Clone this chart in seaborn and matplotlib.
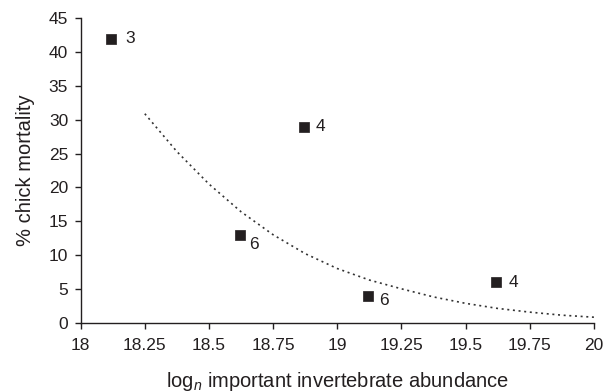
import matplotlib
matplotlib.use("Agg")
import matplotlib.pyplot as plt
import seaborn as sns
import pandas as pd

# Observed points
abundance = [18.12, 18.87, 18.62, 19.12, 19.62]
mortality = [42, 29, 13, 4, 6]
sample_n = ["3", "4", "6", "6", "4"]

# Trend line
trend_x = [18.25, 18.375, 18.5, 18.625, 18.75, 18.875, 19.0, 19.125, 19.25,
           19.375, 19.5, 19.625, 19.75, 19.875, 20.0]
trend_y = [30.9, 25.3, 20.5, 16.4, 13.0, 10.2, 8.0, 6.3, 5.0,
           3.8, 2.85, 2.1, 1.55, 1.1, 0.8]

x_ticks = [18, 18.25, 18.5, 18.75, 19, 19.25, 19.5, 19.75, 20]
x_tick_labels = ["18", "18.25", "18.5", "18.75", "19", "19.25", "19.5", "19.75", "20"]
y_ticks = [0, 5, 10, 15, 20, 25, 30, 35, 40, 45]

sns.set_style("ticks")
plt.rcParams["font.family"] = ["Liberation Sans", "DejaVu Sans"]
plt.rcParams["mathtext.fontset"] = "custom"
plt.rcParams["mathtext.rm"] = "Liberation Sans"
plt.rcParams["mathtext.it"] = "Liberation Sans:italic"

INK = "#231f20"
fig = plt.figure(figsize=(6.11, 3.92), dpi=100)
ax = fig.add_axes([0.132, 0.177, 0.840, 0.776])

pts = pd.DataFrame({"x": abundance, "y": mortality, "n": sample_n})
trend = pd.DataFrame({"x": trend_x, "y": trend_y})

sns.lineplot(data=trend, x="x", y="y", ax=ax, color="#333333", lw=1.2,
             linestyle=(0, (1.2, 2.2)), legend=False)
sns.scatterplot(data=pts, x="x", y="y", ax=ax, marker="s", s=48,
                color=INK, edgecolor=INK, linewidth=0.5, legend=False, zorder=3)

# label offsets in points
offsets = [(10, 0), (8.6, 0), (6.5, -7), (8, -3.5), (8.6, 0)]
for xx, yy, lab, (dx, dy) in zip(abundance, mortality, sample_n, offsets):
    ax.annotate(lab, (xx, yy), xytext=(dx, dy), textcoords="offset points",
                ha="left", va="center", fontsize=12.5, color=INK)

ax.set_xlim(18, 20)
ax.set_ylim(0, 45)
ax.set_xticks(x_ticks)
ax.set_xticklabels(x_tick_labels)
ax.set_yticks(y_ticks)
ax.tick_params(axis="x", labelsize=12.5, length=4, width=1.0, colors=INK, pad=7)
ax.tick_params(axis="y", labelsize=12.5, length=4.5, width=1.0, colors=INK, pad=4.5)
for s in ["left", "bottom"]:
    ax.spines[s].set_linewidth(1.0)
    ax.spines[s].set_color(INK)
sns.despine(ax=ax)

ax.set_xlabel(r"log$_{\mathit{n}}$ important invertebrate abundance", fontsize=14.5, color=INK)
ax.set_ylabel("% chick mortality", fontsize=14.5, color=INK)
ax.xaxis.set_label_coords(0.5, -0.155)
ax.yaxis.set_label_coords(-0.089, 0.5)

fig.savefig("out.png", dpi=100)
